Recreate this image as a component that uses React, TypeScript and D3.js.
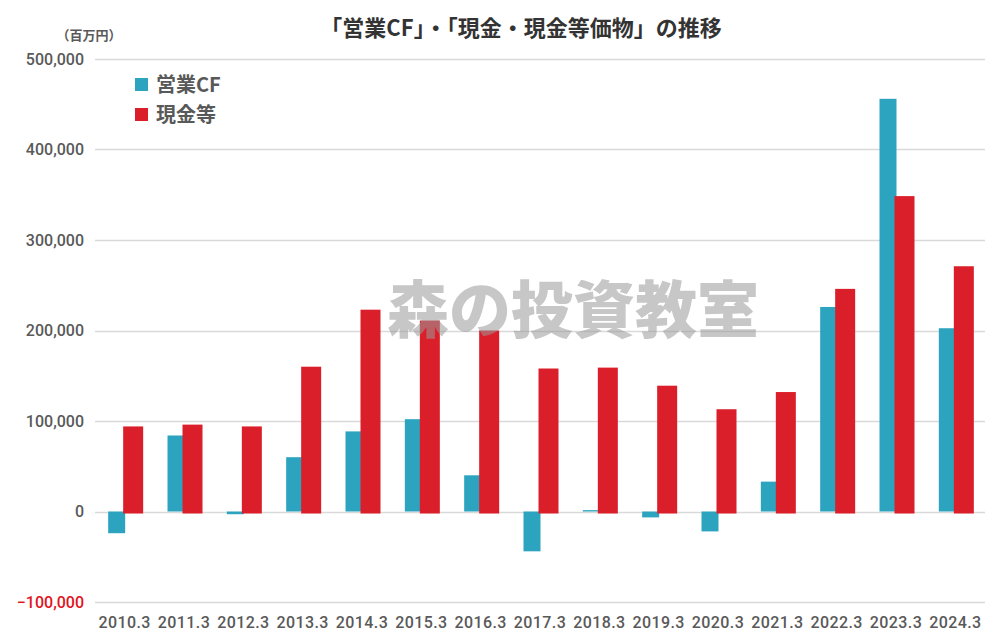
import React, { useEffect, useRef } from 'react';
import * as d3 from 'd3';

const categories = ['2010.3', '2011.3', '2012.3', '2013.3', '2014.3', '2015.3', '2016.3', '2017.3', '2018.3', '2019.3', '2020.3', '2021.3', '2022.3', '2023.3', '2024.3'];
const operatingCF = [-24000, 84000, -3000, 60000, 88500, 102000, 40000, -44000, 1500, -6500, -22000, 33000, 226000, 456000, 202500];
const cashEq = [94000, 96000, 94000, 160000, 223000, 211000, 200000, 158000, 159000, 139000, 113000, 132000, 246000, 348500, 271000];
const yTicks = [-100000, 0, 100000, 200000, 300000, 400000, 500000];

const CYAN = '#2ca3bf';
const RED = '#db1f2a';
const TEXT = '#595959';
const FONT = 'Roboto, "Noto Sans CJK JP", sans-serif';
const JP_FONT = '"Noto Sans CJK JP", sans-serif';

export default function App() {
  const svgRef = useRef<SVGSVGElement>(null);

  useEffect(() => {
    const W = 1007;
    const H = 642;
    const margin = { top: 59, right: 22, bottom: 40, left: 95 };
    const width = W - margin.left - margin.right;
    const height = H - margin.top - margin.bottom;

    const svg = d3.select(svgRef.current);
    svg.selectAll('*').remove();
    svg.attr('width', W).attr('height', H);

    svg.append('rect').attr('width', W).attr('height', H).attr('fill', '#fff');

    const g = svg.append('g').attr('transform', `translate(${margin.left},${margin.top})`);

    const x = d3.scaleBand().domain(categories).range([0, width]);
    const y = d3.scaleLinear().domain([-100000, 500000]).range([height, 0]);

    // grid lines
    g.append('g')
      .selectAll('line')
      .data(yTicks)
      .enter()
      .append('line')
      .attr('x1', 0)
      .attr('x2', width)
      .attr('y1', d => Math.round(y(d)) + 0.5)
      .attr('y2', d => Math.round(y(d)) + 0.5)
      .attr('stroke', '#d9d9d9')
      .attr('stroke-width', 1.3);

    // y tick labels
    g.append('g')
      .selectAll('text')
      .data(yTicks)
      .enter()
      .append('text')
      .attr('x', -11)
      .attr('y', d => y(d))
      .attr('dy', '0.35em')
      .attr('text-anchor', 'end')
      .attr('font-family', FONT)
      .attr('font-size', 16)
      .attr('font-weight', 500)
      .attr('fill', d => (d < 0 ? '#e0141e' : TEXT))
      .text(d => d3.format(',')(d));

    // unit label
    svg.append('text')
      .attr('x', 89)
      .attr('y', 40)
      .attr('text-anchor', 'middle')
      .attr('font-family', JP_FONT)
      .attr('font-size', 13)
      .attr('font-weight', 700)
      .attr('fill', TEXT)
      .text('（百万円）');

    // x labels
    g.append('g')
      .selectAll('text')
      .data(categories)
      .enter()
      .append('text')
      .attr('x', d => (x(d) as number) + x.bandwidth() / 2)
      .attr('y', height + 26)
      .attr('text-anchor', 'middle')
      .attr('font-family', FONT)
      .attr('font-size', 16)
      .attr('font-weight', 500)
      .attr('letter-spacing', 0.4)
      .attr('fill', TEXT)
      .text(d => d);

    const cx = (i: number) => (x(categories[i]) as number) + x.bandwidth() / 2;

    // 営業CF bars
    g.append('g')
      .selectAll('rect')
      .data(operatingCF)
      .enter()
      .append('rect')
      .attr('x', (d, i) => cx(i) - 16.5)
      .attr('width', 17)
      .attr('y', d => Math.min(y(d), y(0)))
      .attr('height', d => Math.abs(y(d) - y(0)))
      .attr('fill', CYAN);

    // 現金等 bars
    g.append('g')
      .selectAll('rect')
      .data(cashEq)
      .enter()
      .append('rect')
      .attr('x', (d, i) => cx(i) - 1.5)
      .attr('width', 20)
      .attr('y', d => y(d))
      .attr('height', d => y(0) - y(d) + 2)
      .attr('fill', RED);

    // legend
    const legend = [
      { label: '営業CF', color: CYAN },
      { label: '現金等', color: RED },
    ];
    const lg = svg.append('g').attr('transform', 'translate(135,78)');
    legend.forEach((l, i) => {
      lg.append('rect')
        .attr('x', 0)
        .attr('y', i * 30)
        .attr('width', 13)
        .attr('height', 13)
        .attr('fill', l.color);
      lg.append('text')
        .attr('x', 21)
        .attr('y', i * 30 + 7)
        .attr('dy', '0.36em')
        .attr('font-family', JP_FONT)
        .attr('font-size', 20)
        .attr('font-weight', 700)
        .attr('fill', TEXT)
        .text(l.label);
    });

    // title
    svg.append('text')
      .attr('x', 521)
      .attr('y', 36)
      .attr('text-anchor', 'middle')
      .attr('font-family', JP_FONT)
      .attr('font-size', 22)
      .attr('font-weight', 700)
      .attr('fill', '#333')
      .text('「営業CF」・「現金・現金等価物」の推移');

    // watermark
    svg.append('text')
      .attr('x', 573)
      .attr('y', 333)
      .attr('text-anchor', 'middle')
      .attr('font-family', JP_FONT)
      .attr('font-size', 62)
      .attr('font-weight', 900)
      .attr('fill', '#9a9a9a')
      .attr('opacity', 0.55)
      .text('森の投資教室');
  }, []);

  return (
    <div style={{ position: 'absolute', left: 0, top: 0 }}>
      <svg ref={svgRef} style={{ display: 'block' }}></svg>
    </div>
  );
}
